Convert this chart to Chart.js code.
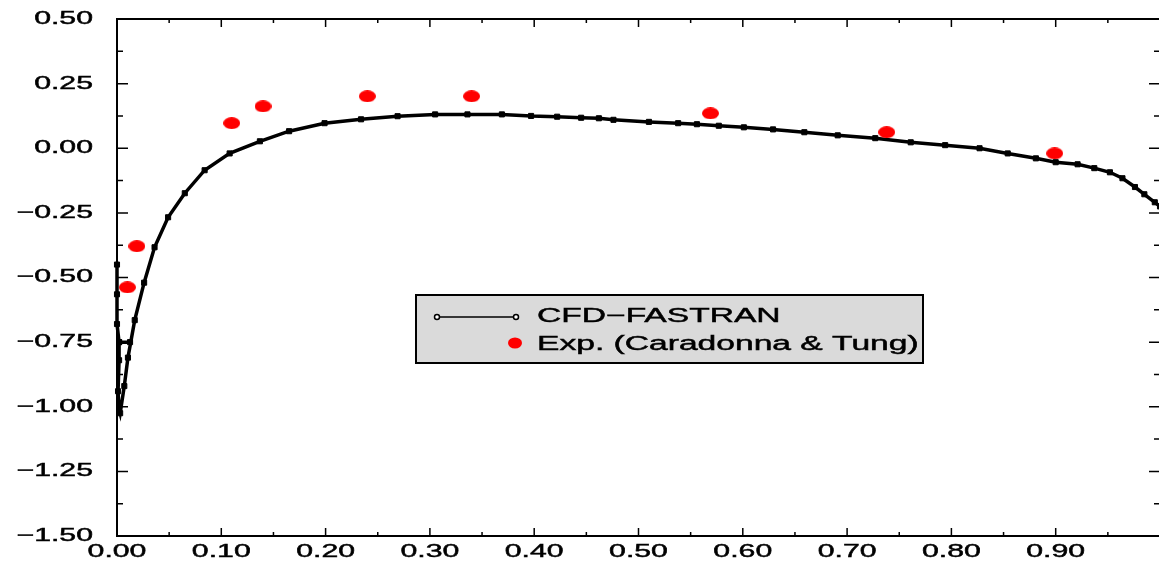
<!DOCTYPE html>
<html>
<head>
<meta charset="utf-8">
<title>Pressure distribution</title>
<script src="https://cdn.jsdelivr.net/npm/chart.js"></script>
<style>
    html, body {
        margin: 0;
        padding: 0;
        background: #ffffff;
        overflow: hidden;
    }
    #wrap {
        width: 1165px;
        height: 567px;
    }
</style>
</head>
<body>
<div id="wrap"><canvas id="cp" width="1165" height="567"></canvas></div>
<script>
// x/c positions and values of the CFD-FASTRAN solution (ordered along the surface)
const cfdX = [0, 0, 0, 0.002, 0.0125, 0.002, 0.002, 0.001, 0.002, 0.003, 0.007, 0.0105, 0.017, 0.026,
    0.036, 0.049, 0.065, 0.084, 0.108, 0.137, 0.165, 0.199, 0.234, 0.269, 0.305, 0.336, 0.369, 0.397,
    0.422, 0.445, 0.462, 0.476, 0.51, 0.538, 0.556, 0.577, 0.601, 0.629, 0.659, 0.691, 0.727, 0.761,
    0.794, 0.827, 0.854, 0.881, 0.9, 0.921, 0.937, 0.952, 0.964, 0.976, 0.985, 0.995, 1.0];
const cfdY = [-0.45, -0.565, -0.68, -0.75, -0.75, -0.75, -0.82, -0.94, -1.01, -1.025, -0.92, -0.81, -0.665, -0.52,
    -0.383, -0.267, -0.174, -0.085, -0.02, 0.027, 0.066, 0.097, 0.112, 0.124, 0.131, 0.131, 0.131, 0.125,
    0.122, 0.118, 0.116, 0.11, 0.102, 0.097, 0.093, 0.087, 0.081, 0.073, 0.062, 0.05, 0.039, 0.023,
    0.012, 0.0, -0.02, -0.039, -0.054, -0.062, -0.077, -0.093, -0.116, -0.15, -0.178, -0.209, -0.225];

// experiment (Caradonna & Tung)
const expX = [0.01, 0.019, 0.11, 0.14, 0.24, 0.34, 0.569, 0.738, 0.899];
const expY = [-0.538, -0.379, 0.097, 0.162, 0.201, 0.201, 0.135, 0.062, -0.02];

// tick values and their labels
const xTicks = [0.0, 0.1, 0.2, 0.3, 0.4, 0.5, 0.6, 0.7, 0.8, 0.9];
const xLabels = ['0.00', '0.10', '0.20', '0.30', '0.40', '0.50', '0.60', '0.70', '0.80', '0.90'];
const yTicks = [0.5, 0.25, 0, -0.25, -0.5, -0.75, -1.0, -1.25, -1.5];
const yLabels = ['0.50', '0.25', '0.00', '\u22120.25', '\u22120.50', '\u22120.75', '\u22121.00', '\u22121.25', '\u22121.50'];

const legendNames = ['CFD\u2212FASTRAN', 'Exp. (Caradonna & Tung)'];

const FONT = '"Liberation Sans", Arial, sans-serif';
const STRETCH = 1.68;

// red oval used for the experimental points
function oval(w, h) {
    const c = document.createElement('canvas');
    c.width = w;
    c.height = h;
    const g = c.getContext('2d');
    g.fillStyle = '#ff0000';
    g.beginPath();
    g.ellipse(w / 2, h / 2, w / 2, h / 2, 0, 0, Math.PI * 2);
    g.fill();
    return c;
}

// stretched, slightly heavy text like the plotting package's font
function wideText(ctx, txt, x, y, align, size) {
    ctx.save();
    ctx.translate(x, y);
    ctx.scale(STRETCH, 1);
    ctx.font = size + 'px ' + FONT;
    ctx.fillStyle = '#000';
    ctx.strokeStyle = '#000';
    ctx.lineWidth = 0.45;
    ctx.textAlign = align;
    ctx.textBaseline = 'middle';
    ctx.fillText(txt, 0, 0);
    ctx.strokeText(txt, 0, 0);
    ctx.restore();
}

// frame, inward ticks, tick labels and the boxed legend
const framePlugin = {
    id: 'frame',
    beforeDatasetsDraw(chart) {
        const ctx = chart.ctx;
        const a = chart.chartArea;
        const xs = chart.scales.x;
        const ys = chart.scales.y;
        ctx.save();
        ctx.strokeStyle = '#000';
        ctx.lineWidth = 2;
        ctx.strokeRect(a.left, a.top, a.right - a.left, a.bottom - a.top);

        ctx.lineWidth = 1.5;
        ctx.beginPath();
        for (let v = 0; v <= 1.0001; v += 0.05) {
            const px = xs.getPixelForValue(v);
            const major = Math.abs(v * 10 - Math.round(v * 10)) < 1e-6;
            const len = major ? 8 : 4;
            ctx.moveTo(px, a.bottom);
            ctx.lineTo(px, a.bottom - len);
            ctx.moveTo(px, a.top);
            ctx.lineTo(px, a.top + len);
        }
        for (let v = -1.5; v <= 0.5001; v += 0.125) {
            const py = ys.getPixelForValue(v);
            const major = Math.abs(v * 4 - Math.round(v * 4)) < 1e-6;
            const len = major ? 11 : 6;
            ctx.moveTo(a.left, py);
            ctx.lineTo(a.left + len, py);
            ctx.moveTo(a.right, py);
            ctx.lineTo(a.right - len, py);
        }
        ctx.stroke();
        ctx.restore();

        xTicks.forEach((v, i) => wideText(ctx, xLabels[i], xs.getPixelForValue(v), a.bottom + 16, 'center', 18));
        yTicks.forEach((v, i) => wideText(ctx, yLabels[i], 93, ys.getPixelForValue(v), 'right', 18));
    },
    afterDraw(chart) {
        const ctx = chart.ctx;
        ctx.save();
        ctx.fillStyle = '#dadada';
        ctx.fillRect(416, 295, 507, 68);
        ctx.strokeStyle = '#000';
        ctx.lineWidth = 2;
        ctx.strokeRect(416, 295, 507, 68);

        // line sample with open markers
        ctx.lineWidth = 1.5;
        ctx.beginPath();
        ctx.moveTo(437, 317);
        ctx.lineTo(516, 317);
        ctx.stroke();
        ctx.fillStyle = '#fff';
        [437, 516].forEach(px => {
            ctx.beginPath();
            ctx.arc(px, 317, 2.5, 0, Math.PI * 2);
            ctx.fill();
            ctx.stroke();
        });
        ctx.fillStyle = '#ff0000';
        ctx.beginPath();
        ctx.ellipse(515, 343, 7, 5.5, 0, 0, Math.PI * 2);
        ctx.fill();
        ctx.restore();

        wideText(ctx, legendNames[0], 537, 316, 'left', 20);
        wideText(ctx, legendNames[1], 537, 344, 'left', 20);
    }
};

const ctx = document.getElementById('cp').getContext('2d');
new Chart(ctx, {
    type: 'scatter',
    data: {
        datasets: [
            {
                label: legendNames[1],
                data: expX.map((x, i) => ({ x: x, y: expY[i] })),
                pointStyle: oval(17, 12),
                showLine: false
            },
            {
                label: legendNames[0],
                data: cfdX.map((x, i) => ({ x: x, y: cfdY[i] })),
                showLine: true,
                borderColor: '#000',
                borderWidth: 3.5,
                pointStyle: 'rect',
                pointRadius: 3.6,
                pointBackgroundColor: '#000',
                pointBorderColor: '#000',
                pointBorderWidth: 1,
                tension: 0,
                clip: 8
            }
        ]
    },
    options: {
        responsive: false,
        animation: false,
        devicePixelRatio: 1,
        layout: {
            padding: { left: 117, right: 2, top: 19, bottom: 31 }
        },
        scales: {
            x: { type: 'linear', min: 0, max: 1.0, display: false },
            y: { type: 'linear', min: -1.5, max: 0.5, display: false }
        },
        plugins: {
            legend: { display: false },
            tooltip: { enabled: false }
        }
    },
    plugins: [framePlugin]
});
</script>
</body>
</html>
